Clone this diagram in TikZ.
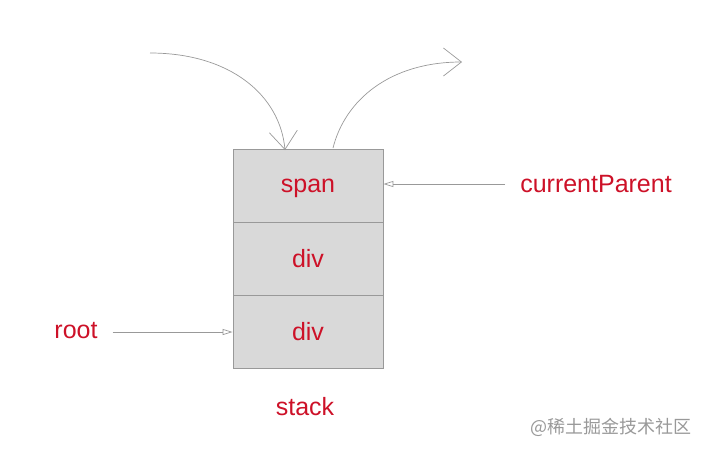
\documentclass[tikz,border=0pt]{standalone}
\usepackage{fontspec}
\setmainfont{Liberation Sans}
\newfontfamily\cjk{Noto Sans CJK SC}
\usetikzlibrary{arrows.meta}
\definecolor{labelred}{RGB}{205,17,40}
\definecolor{linegray}{RGB}{153,153,153}
\definecolor{cellgray}{RGB}{217,217,217}
\tikzset{
  cell/.style={draw=linegray, fill=cellgray, line width=0.8pt, minimum width=150pt, minimum height=73pt, inner sep=0pt, text=labelred, font=\fontsize{25}{28}\selectfont},
  lbl/.style={text=labelred, font=\fontsize{25}{28}\selectfont, inner sep=0pt},
  ptr/.style={draw=linegray, line width=0.7pt, -{Triangle[open, length=10pt, width=6pt]}},
  flow/.style={draw=linegray, line width=0.7pt, -{Straight Barb[length=18pt, width=28pt, line width=0.7pt]}}
}
\begin{document}
\begin{tikzpicture}[x=1pt, y=-1pt]
    \useasboundingbox (0, 0) rectangle (709, 451);
    \node[cell] (top) at (308, 186) {span\vphantom{d}};
    \node[cell] (mid) at (308, 259) {div};
    \node[cell] (bot) at (308, 332) {div};
    \node[lbl] (cp) at (596, 184) {currentParent};
    \node[lbl] (root) at (76, 331) {root};
    \node[lbl] (stack) at (305, 407) {stack};
    \node[text=linegray, font=\cjk\fontsize{18}{21}\selectfont, inner sep=0pt] (mark) at (611, 427) {@稀土掘金技术社区};
    \coordinate (in) at (150, 53);
    \coordinate (out) at (462, 62);
    \coordinate (push) at (285, 150);
    \coordinate (pop) at (333, 148);
    \draw [ptr] (cp.west) ++(-15, 0) -- (top.east |- 184, 184);
    \draw [ptr] (root.east) ++(15, 1) -- (bot.west);
    \draw [flow] (in) .. controls (230, 53) and (280, 95) .. (push);
    \draw [flow] (pop) .. controls (345, 100) and (390, 62) .. (out);
  \end{tikzpicture}
\end{document}
